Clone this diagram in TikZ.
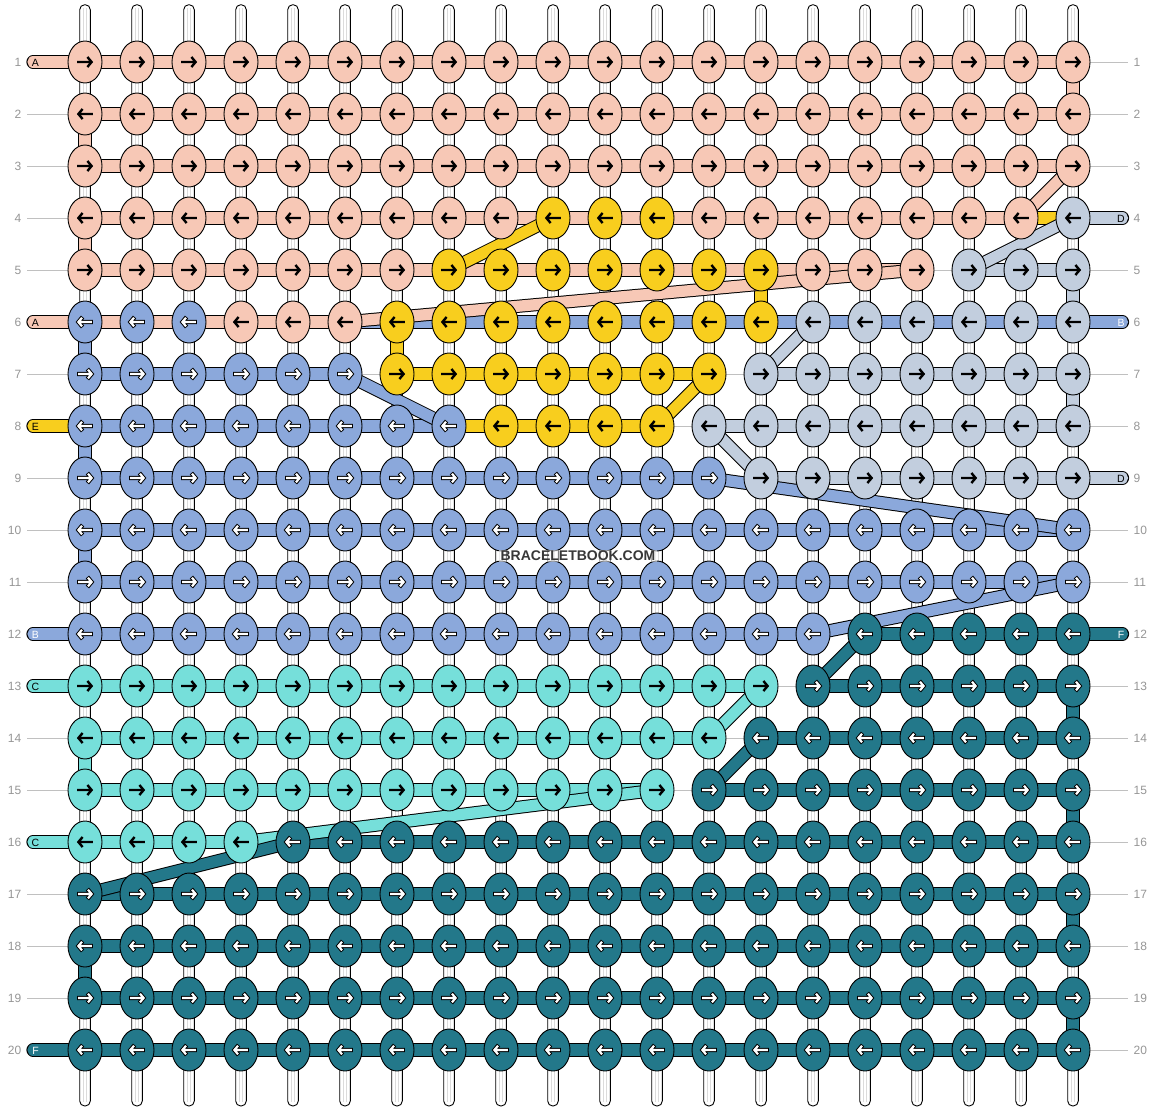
\documentclass[tikz,border=0pt]{standalone}
\usepackage{fontspec}
\setmainfont{Liberation Sans}
\usetikzlibrary{shapes.geometric}
\definecolor{cS}{RGB}{247,200,182}
\definecolor{cY}{RGB}{248,206,30}
\definecolor{cG}{RGB}{194,206,222}
\definecolor{cB}{RGB}{139,168,219}
\definecolor{cC}{RGB}{118,223,218}
\definecolor{cT}{RGB}{35,120,138}
\definecolor{lbl}{RGB}{150,150,150}
\definecolor{guide}{RGB}{192,192,192}
\newcommand\band[3]{\draw[line width=13.2,black] (#2) -- (#3); \draw[line width=11.2,color=#1] (#2) -- (#3);}
\tikzset{
  knotshape/.style={ellipse, minimum width=34, minimum height=42, inner sep=0, draw=black, line width=0.9},
  guideline/.style={draw=guide, line width=1},
  numlabel/.style={text=lbl, font=\fontsize{12}{12}\selectfont, inner sep=0},
  tablabel/.style={font=\fontsize{10.5}{10.5}\selectfont, inner sep=0},
  pics/arrblack/.style={code={\draw[black, line width=2.4, line join=miter] (-7.8,0)--(6.6,0) (2.4,-5)--(6.6,0)--(2.4,5);}},
  pics/arrwhite/.style={code={\draw[black, line width=4.2, line join=miter] (-7.8,0)--(6.6,0) (2.4,-5)--(6.6,0)--(2.4,5);
     \draw[white, line width=2.2, line join=miter] (-6.9,0)--(6.6,0) (2.98,-4.31)--(6.6,0)--(2.98,4.31);}},
}
\begin{document}
\begin{tikzpicture}[x=1pt,y=-1pt]
\useasboundingbox (0,0) rectangle (1156,1112);
\fill[white] (0,0) rectangle (1156,1112);
% knot positions
\foreach \r in {1,...,20}{\foreach \c in {1,...,20}{\coordinate (p-\r-\c) at ({85+52*(\c-1)},{62+52*(\r-1)});}}
% vertical white strings
\foreach \c in {1,...,20}{\pgfmathsetmacro\xx{85+52*(\c-1)}
  \draw[fill=white,line width=0.9,rounded corners=5] (\xx-5.3,4.7) rectangle (\xx+5.3,1106);
  \draw[black!14,line width=0.6] (\xx-1.6,8) -- (\xx-1.6,1102) (\xx+1.6,8) -- (\xx+1.6,1102);}
% row numbers and guide lines
\foreach \r in {1,...,20}{\pgfmathsetmacro\yy{62+52*(\r-1)}
  \coordinate (gl-\r) at (27,\yy); \coordinate (gr-\r) at (1128,\yy);
  \node[numlabel,anchor=east] (nl-\r) at (21.5,\yy) {\r};
  \node[numlabel,anchor=west] (nr-\r) at (1133.5,\yy) {\r};}
\foreach \r in {2,3,4,5,7,9,10,11,14,15,17,18,19}{\draw[guideline] (gl-\r) -- (p-\r-1);}
\foreach \r in {1,2,3,5,7,8,10,11,13,14,15,16,17,18,19,20}{\draw[guideline] (p-\r-20) -- (gr-\r);}
% edge and inner vertical stubs
\foreach \c/\r/\col in {20/1/cS,20/5/cG,20/7/cG,20/13/cT,20/15/cT,20/17/cT,20/19/cT,
   1/2/cS,1/4/cS,1/6/cB,1/8/cB,1/10/cB,1/14/cC,1/18/cT,7/6/cY,14/5/cY}{
  \pgfmathtruncatemacro\rn{\r+1}\band{\col}{p-\r-\c}{p-\rn-\c}}
% horizontal row threads
\foreach \r/\a/\b/\col in {1/1/20/cS,2/1/20/cS,3/1/20/cS,4/1/19/cS,4/19/20/cY,5/1/17/cS,5/18/20/cG,
   6/1/6/cS,6/6/20/cB,7/1/6/cB,7/7/13/cY,7/14/20/cG,8/1/8/cB,8/8/12/cY,8/13/20/cG,9/1/13/cB,9/14/20/cG,
   10/1/20/cB,11/1/20/cB,12/1/15/cB,12/16/20/cT,13/1/14/cC,13/15/20/cT,14/1/13/cC,14/14/20/cT,
   15/1/12/cC,15/13/20/cT,16/1/4/cC,16/5/20/cT,17/1/20/cT,18/1/20/cT,19/1/20/cT,20/1/20/cT}{
  \band{\col}{p-\r-\a}{p-\r-\b}}
% thin gaps
\foreach \r/\a/\b in {5/17/18,7/6/7,7/13/14,8/12/13,13/14/15,14/13/14,15/12/13}{\draw[guideline] (p-\r-\a) -- (p-\r-\b);}
% diagonal threads
\foreach \ra/\ca/\rb/\cb/\col in {3/20/4/19/cS,4/10/5/8/cY,4/20/5/18/cG,5/17/6/6/cS,6/15/7/14/cG,7/6/8/8/cB,
   8/12/7/13/cY,8/13/9/14/cG,9/13/10/20/cB,11/20/12/15/cB,12/16/13/15/cT,13/14/14/13/cC,14/14/15/13/cT,
   15/12/16/4/cC,16/5/17/1/cT}{\band{\col}{p-\ra-\ca}{p-\rb-\cb}}
% left tabs
\foreach \r/\col/\t/\tc in {1/cS/A/black,6/cS/A/black,8/cY/E/black,12/cB/B/white,13/cC/C/black,16/cC/C/black,20/cT/F/white}{
  \pgfmathsetmacro\yy{62+52*(\r-1)}
  \coordinate (lt-\r) at (33,\yy);
  \draw[line width=13.2,line cap=round,black] (lt-\r) -- (p-\r-1);
  \draw[line width=11.2,line cap=round,color=\col] (lt-\r) -- (p-\r-1);
  \node[tablabel,text=\tc] (ltl-\r) at (35.5,\yy+0.5) {\t};}
% right tabs
\foreach \r/\col/\t/\tc in {4/cG/D/black,6/cB/B/white,9/cG/D/black,12/cT/F/white}{
  \pgfmathsetmacro\yy{62+52*(\r-1)}
  \coordinate (rt-\r) at (1122.5,\yy);
  \draw[line width=13.2,line cap=round,black] (p-\r-20) -- (rt-\r);
  \draw[line width=11.2,line cap=round,color=\col] (p-\r-20) -- (rt-\r);
  \node[tablabel,text=\tc] (rtl-\r) at (1121,\yy+0.5) {\t};}
% knots
\foreach \r/\a/\b/\col/\ar in {1/1/20/cS/arrblack,2/1/20/cS/arrblack,3/1/20/cS/arrblack,
   4/1/9/cS/arrblack,4/10/12/cY/arrblack,4/13/19/cS/arrblack,4/20/20/cG/arrblack,
   5/1/7/cS/arrblack,5/8/14/cY/arrblack,5/15/17/cS/arrblack,5/18/20/cG/arrblack,
   6/1/3/cB/arrwhite,6/4/6/cS/arrblack,6/7/14/cY/arrblack,6/15/20/cG/arrblack,
   7/1/6/cB/arrwhite,7/7/13/cY/arrblack,7/14/20/cG/arrblack,
   8/1/8/cB/arrwhite,8/9/12/cY/arrblack,8/13/20/cG/arrblack,
   9/1/13/cB/arrwhite,9/14/20/cG/arrblack,10/1/20/cB/arrwhite,11/1/20/cB/arrwhite,
   12/1/15/cB/arrwhite,12/16/20/cT/arrwhite,13/1/14/cC/arrblack,13/15/20/cT/arrwhite,
   14/1/13/cC/arrblack,14/14/20/cT/arrwhite,15/1/12/cC/arrblack,15/13/20/cT/arrwhite,
   16/1/4/cC/arrblack,16/5/20/cT/arrwhite,17/1/20/cT/arrwhite,18/1/20/cT/arrwhite,
   19/1/20/cT/arrwhite,20/1/20/cT/arrwhite}{
  \pgfmathtruncatemacro\dir{mod(\r,2)==1 ? 1 : -1}
  \foreach \c in {\a,...,\b}{
    \node[knotshape,fill=\col] (n-\r-\c) at (p-\r-\c) {};
    \pic[xscale=\dir] at (p-\r-\c) {\ar};}}
% watermark
\node[font=\bfseries\fontsize{14}{14}\selectfont, text=black!78, fill=white, fill opacity=0.5, text opacity=1,
  inner xsep=1.5, inner ysep=1.2] (wm) at (578,556) {BRACELETBOOK.COM};
\end{tikzpicture}
\end{document}
